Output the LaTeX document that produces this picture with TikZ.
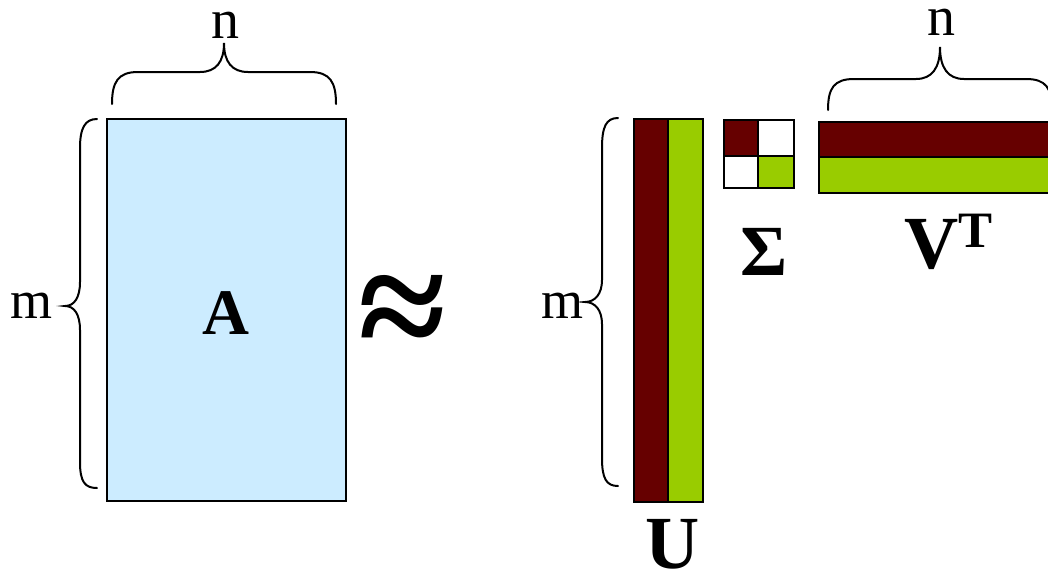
\documentclass[tikz,border=0pt]{standalone}
\usepackage{fontspec}
\setmainfont{Liberation Serif}
\usetikzlibrary{positioning}
\definecolor{bleuclair}{HTML}{CCECFF}
\definecolor{rougefonce}{HTML}{660000}
\definecolor{vertclair}{HTML}{99CC00}

\begin{document}
\begin{tikzpicture}[x=1pt,y=-1pt,
    accolade/.style={line width=2pt, line cap=round},
    bloc/.style={draw, line width=2pt}]
  \useasboundingbox (0,0) rectangle (1048,571);
  % matrice A
  \node[bloc, fill=bleuclair, inner sep=0pt, minimum width=239pt, minimum height=382pt] (A) at (226.5,310) {};
  \node[anchor=base, inner sep=0pt] (lA) at (226,334) {\fontsize{65}{65}\selectfont\bfseries A};
  \draw[accolade] (112,104) .. controls (112,82) and (118,72) .. (138,72) -- (200,72)
    .. controls (216,72) and (224,62) .. (224,43) .. controls (224,62) and (232,72) .. (248,72)
    -- (310,72) .. controls (330,72) and (336,82) .. (336,104);
  \draw[accolade] (97,119) .. controls (85,119) and (80,128) .. (80,148) -- (80,282)
    .. controls (80,298) and (74,306) .. (65,306) .. controls (74,306) and (80,314) .. (80,330)
    -- (80,462) .. controls (80,482) and (85,488) .. (97,488);
  \node[anchor=base, inner sep=0pt] (nA) at (225,38) {\fontsize{56}{56}\selectfont n};
  \node[anchor=base, inner sep=0pt] (mA) at (32,318) {\fontsize{54}{54}\selectfont m};
  % environ
  \node[inner sep=0pt] (approx) at (402,318) {\fontsize{160}{160}\selectfont\bfseries ≈};
  % matrice U
  \draw[bloc, fill=rougefonce] (634,119) rectangle (668,502);
  \draw[bloc, fill=vertclair] (668,119) rectangle (703,502);
  \node[anchor=base, inner sep=0pt] (lU) at (673,568) {\fontsize{75}{75}\selectfont\bfseries U};
  \draw[accolade] (618,118) .. controls (606,118) and (602,127) .. (602,148) -- (602,280)
    .. controls (602,294) and (595,302) .. (585,302) .. controls (595,302) and (602,310) .. (602,324)
    -- (602,458) .. controls (602,478) and (606,486) .. (618,486);
  \node[anchor=base, inner sep=0pt] (mU) at (562,318) {\fontsize{54}{54}\selectfont m};
  % matrice Sigma
  \draw[bloc, fill=rougefonce] (724,120) rectangle (758,156);
  \draw[bloc, fill=white] (758,120) rectangle (794,156);
  \draw[bloc, fill=white] (724,156) rectangle (758,188);
  \draw[bloc, fill=vertclair] (758,156) rectangle (794,188);
  \node[anchor=base, inner sep=0pt] (lS) at (764,275) {\fontsize{72}{72}\selectfont\bfseries Σ};
  % matrice V^T
  \draw[bloc, fill=rougefonce] (819,122) rectangle (1056,157);
  \draw[bloc, fill=vertclair] (819,157) rectangle (1056,193);
  \node[anchor=base west, inner sep=0pt] (lV) at (904,268)
    {\fontsize{75}{75}\selectfont\bfseries V\raisebox{21pt}{\fontsize{51}{51}\selectfont T}};
  \draw[accolade] (828,110) .. controls (828,88) and (834,79) .. (854,79) -- (916,79)
    .. controls (932,79) and (940,68) .. (940,47) .. controls (940,68) and (948,79) .. (964,79)
    -- (1026,79) .. controls (1046,79) and (1052,88) .. (1052,110);
  \node[anchor=base, inner sep=0pt] (nV) at (941,35) {\fontsize{56}{56}\selectfont n};
\end{tikzpicture}
\end{document}
